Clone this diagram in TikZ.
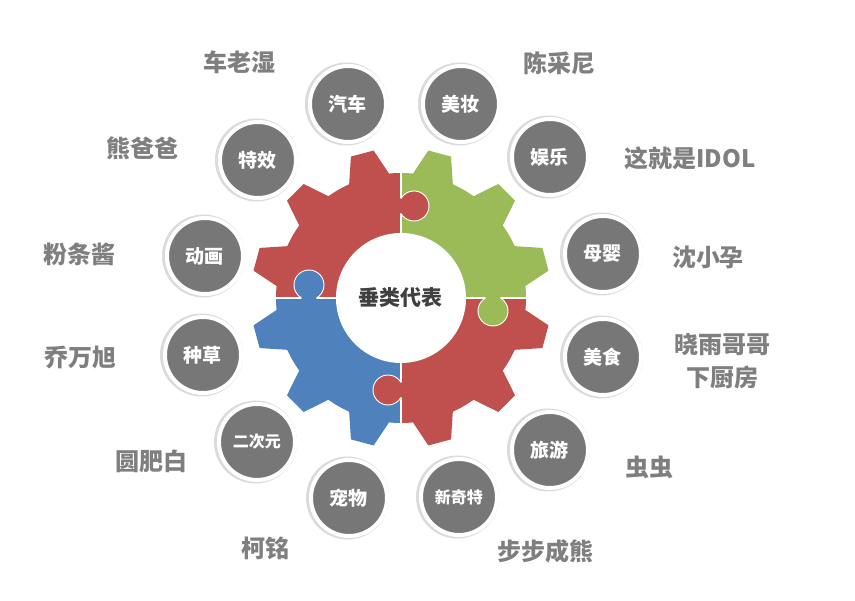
\documentclass[tikz,border=0pt]{standalone}
\usepackage{fontspec}
\setmainfont{Noto Sans CJK SC}
\usepackage{tikz}
\usetikzlibrary{positioning, calc}
\definecolor{GearRed}{HTML}{C0504D}
\definecolor{GearGreen}{HTML}{9BBB59}
\definecolor{GearBlue}{HTML}{4F81BD}
\definecolor{DiscGrey}{HTML}{777777}
\definecolor{LabelGrey}{HTML}{7F7F7F}
\definecolor{CoreGrey}{HTML}{404040}
\newcommand{\gearpath}{(5.5:125) \foreach \a in {15,45,...,345} { -- (\a-4.5:150) -- (\a+4.5:150) -- (\a+9.5:125) arc[start angle=\a+9.5, end angle=\a+20.5, radius=125] } -- cycle}

\begin{document}
\begin{tikzpicture}[x=1pt, y=1pt]
    \tikzstyle{core} = [circle, fill=white, minimum size=130pt, text=CoreGrey, font=\fontsize{21}{21}\selectfont\bfseries]
    \tikzstyle{seam} = [draw=white, line width=1.2pt]
    \tikzstyle{tabline} = [draw=white, line width=0.9pt]
    \tikzstyle{disc} = [circle, fill=DiscGrey, draw=white, line width=4pt, minimum size=76pt, text=white]
    \tikzstyle{discshadow} = [fill=black!14]
    \tikzstyle{label} = [text=LabelGrey, align=center, font=\fontsize{24}{33}\selectfont\bfseries]

    \useasboundingbox (-401,-303) rectangle (454,298);

    % four quarters of the gear
    \begin{scope}\clip (0,0) rectangle (-160,160); \fill[GearRed] \gearpath; \end{scope}
    \begin{scope}\clip (0,0) rectangle (160,160); \fill[GearGreen] \gearpath; \end{scope}
    \begin{scope}\clip (0,0) rectangle (160,-160); \fill[GearRed] \gearpath; \end{scope}
    \begin{scope}\clip (0,0) rectangle (-160,-160); \fill[GearBlue] \gearpath; \end{scope}

    \node [core] (core) at (0,0) {垂类代表};
    \draw [seam] (core.north) -- (0,126);
    \draw [seam] (core.east) -- (126,0);
    \draw [seam] (core.south) -- (0,-126);
    \draw [seam] (core.west) -- (-126,0);

    % puzzle tabs
    \foreach \k/\c in {0/GearRed, 1/GearGreen, 2/GearRed, 3/GearBlue} {
        \begin{scope}[rotate=-90*\k]
            \fill[\c] (-3,84.5) -- (0,84.5) arc[start angle=-150, end angle=150, radius=15] -- (-3,99.5) -- cycle;
            \draw[tabline] (0,84.5) arc[start angle=-150, end angle=150, radius=15];
        \end{scope}
    }

    % grey discs
    \foreach \x/\y/\t/\s [count=\i] in {-53/194/汽车/19, 60/194/美妆/19, 149/141/娱乐/19, 202/44/母婴/19, 202/-59/美食/19, 149/-152/旅游/19, 58/-199/新奇特/16, -52/-200/宠物/19, -144/-144/二次元/16, -198/-57/种草/19, -196/42/动画/19, -143/138/特效/19} {
        \fill[discshadow] (\x-1.5,\y) circle (41.5);
        \node [disc, font=\fontsize{\s}{\s}\selectfont\bfseries] (d\i) at (\x,\y) {\t};
    }

    \node [label] (l1) at (-161,236) {车老湿};
    \node [label] (l2) at (159,235) {陈采尼};
    \node [label] (l3) at (289,140) {这就是IDOL};
    \node [label] (l4) at (307,41) {沈小孕};
    \node [label] (l5) at (321,-63) {晓雨哥哥\\下厨房};
    \node [label] (l6) at (249,-169) {虫虫};
    \node [label] (l7) at (145,-253) {步步成熊};
    \node [label] (l8) at (-135,-250) {柯铭};
    \node [label] (l9) at (-249,-163) {圆肥白};
    \node [label] (l10) at (-320,-59) {乔万旭};
    \node [label] (l11) at (-321,44) {粉条酱};
    \node [label] (l12) at (-258,150) {熊爸爸};
\end{tikzpicture}
\end{document}
